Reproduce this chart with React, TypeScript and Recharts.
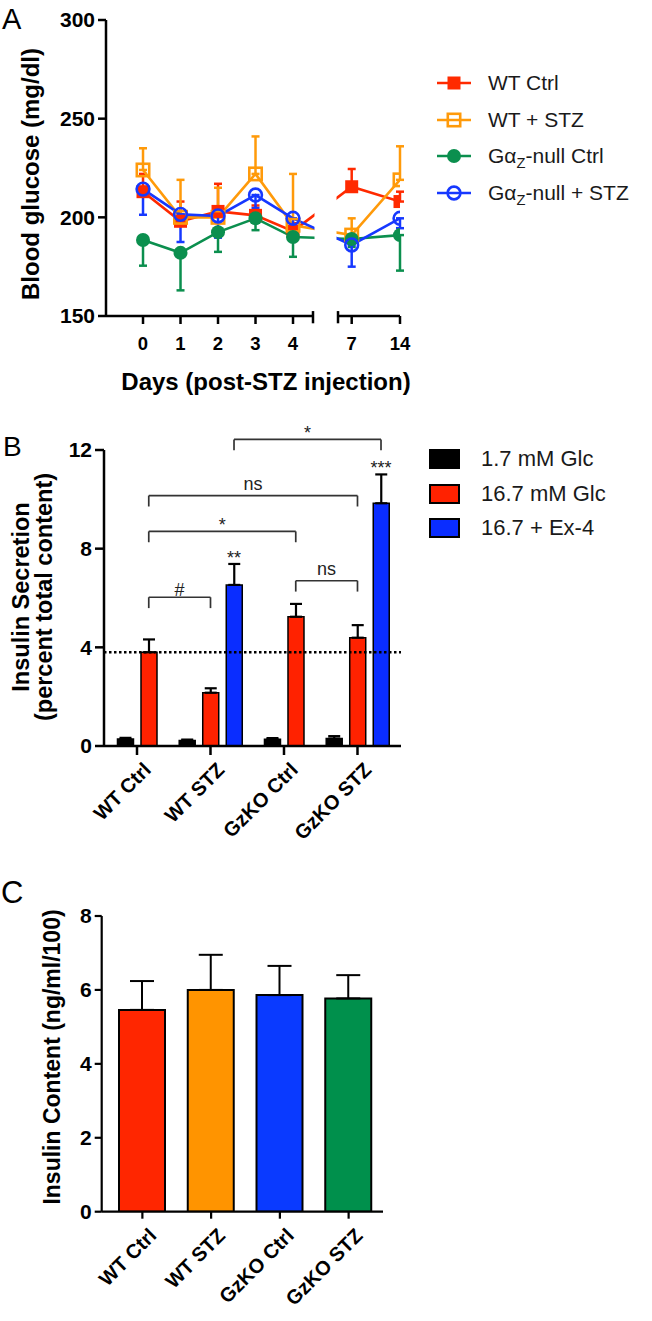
import React from 'react';
import {
  LineChart,
  Line,
  XAxis,
  YAxis,
  ErrorBar,
  ReferenceLine,
  ReferenceArea,
  ReferenceDot,
  BarChart,
  Bar,
  Cell,
  Legend,
} from 'recharts';

const FONT = '"Liberation Sans", Arial, Helvetica, sans-serif';

// ---------- Panel A: blood glucose ----------
const days = ['0', '1', '2', '3', '4', '7', '14'];
const wtCtrl = [213, 198, 203, 201, 193, 215.5, 208];
const wtCtrlErr = [9, 10, 14, 5, 4, 9, 5];
const wtStz = [224, 200, 200, 222, 196, 191, 219];
const wtStzErr = [11, 19, 15, 19, 26, 8.5, 17];
const nullCtrl = [188.5, 182, 192.5, 199.5, 190, 189, 191];
const nullCtrlErr = [13, 19, 10, 6, 10, 4, 18];
const nullStz = [214.3, 201.5, 200.7, 211.3, 199.5, 186, 199.5];
const nullStzErr = [13, 14, 11, 6.6, 7.5, 11, 5];
const glucoseTicks = [150, 200, 250, 300];

// ---------- Panel B: insulin secretion ----------
const groupsB = ['WT Ctrl', 'WT STZ', 'GzKO Ctrl', 'GzKO STZ'];
const glcLow = [0.28, 0.22, 0.27, 0.3];
const glcLowErr = [0.05, 0.04, 0.05, 0.1];
const glcHigh = [3.8, 2.16, 5.24, 4.39];
const glcHighErr = [0.52, 0.18, 0.52, 0.51];
const glcEx4 = [null, 6.53, null, 9.84];
const glcEx4Err = [null, 0.85, null, 1.17];
const secretionTicks = [0, 4, 8, 12];

// ---------- Panel C: insulin content ----------
const groupsC = ['WT Ctrl', 'WT STZ', 'GzKO Ctrl', 'GzKO STZ'];
const content = [5.46, 6.0, 5.86, 5.77];
const contentErr = [0.78, 0.95, 0.79, 0.63];
const contentTicks = [0, 2, 4, 6, 8];

// layout of the broken day axis (slot units)
const dayPos = [0, 1, 2, 3, 4, 5.565, 6.853];
const A_X = { min: -0.987, breakL: 4.533, breakR: 5.2, max: 6.853 };

const seriesA = [
  { key: 'wtCtrl', name: 'WT Ctrl', color: '#FF2A00', values: wtCtrl, err: wtCtrlErr, up: true, shape: 'square', filled: true },
  { key: 'wtStz', name: 'WT + STZ', color: '#FF9A0A', values: wtStz, err: wtStzErr, up: true, shape: 'square', filled: false },
  { key: 'nullCtrl', name: 'Ctrl', color: '#0B8F4E', values: nullCtrl, err: nullCtrlErr, up: false, shape: 'circle', filled: true },
  { key: 'nullStz', name: '+ STZ', color: '#1638FF', values: nullStz, err: nullStzErr, up: false, shape: 'circle', filled: false },
];

const dataA = days.map((d, i) => {
  const row: any = { pos: dayPos[i], day: d };
  seriesA.forEach((s) => {
    row[s.key] = s.values[i];
    row[s.key + 'Err'] = s.up ? [0, s.err[i]] : [s.err[i], 0];
  });
  return row;
});

const markerShape = (s: any, cx: number, cy: number, key?: string) => {
  if (s.shape === 'square') {
    const half = s.filled ? 6.5 : 6.2;
    return (
      <rect key={key} x={cx - half} y={cy - half} width={half * 2} height={half * 2}
        fill={s.filled ? s.color : 'none'} stroke={s.color} strokeWidth={s.filled ? 0 : 2.6} />
    );
  }
  return (
    <circle key={key} cx={cx} cy={cy} r={s.filled ? 7 : 6.4}
      fill={s.filled ? s.color : 'none'} stroke={s.color} strokeWidth={s.filled ? 0 : 2.6} />
  );
};

const dotFor = (s: any) => (p: any) => {
  const k = `${s.key}-${p.index}`;
  if (p.cx == null || p.cy == null) return <g key={k} />;
  return markerShape(s, p.cx, p.cy, k);
};

const seriesLabel = (s: any) => {
  if (s.key.startsWith('null')) {
    return (
      <span>
        G&alpha;<span style={{ fontSize: '0.7em', position: 'relative', top: '0.32em' }}>Z</span>-null {s.name}
      </span>
    );
  }
  return <span>{s.name}</span>;
};

const LegendA = () => (
  <div style={{ fontFamily: FONT }}>
    {seriesA.map((s) => (
      <div key={s.key} style={{ display: 'flex', alignItems: 'center', height: 36.8 }}>
        <svg width={34} height={20}>
          <line x1={0} y1={10} x2={34} y2={10} stroke={s.color} strokeWidth={2.6} />
          {markerShape(s, 17, 10)}
        </svg>
        <span style={{ marginLeft: 17, fontSize: 21, color: '#1a1a1a', whiteSpace: 'nowrap' }}>{seriesLabel(s)}</span>
      </div>
    ))}
  </div>
);

// ---------- Panel B layout ----------
const SLOT = 0.32;
const seriesB = [
  { key: 'low', name: '1.7 mM Glc', color: '#000000', values: glcLow, err: glcLowErr },
  { key: 'high', name: '16.7 mM Glc', color: '#FF2200', values: glcHigh, err: glcHighErr },
  { key: 'ex4', name: '16.7 + Ex-4', color: '#0A2DFF', values: glcEx4, err: glcEx4Err },
];

const barsB = groupsB.flatMap((g, gi) => {
  const present = seriesB.filter((s) => s.values[gi] != null);
  return present.map((s, k) => ({
    x: gi + (k - (present.length - 1) / 2) * SLOT,
    v: s.values[gi] as number,
    err: [0, s.err[gi] as number],
    fill: s.color,
    series: s.key,
    group: gi,
  }));
});
const barB = (gi: number, key: string) => barsB.find((b) => b.group === gi && b.series === key)!;

const bracketsB = [
  { a: [0, 'high'], b: [1, 'high'], y: 6.03, label: '#', offset: 1 },
  { a: [2, 'high'], b: [3, 'high'], y: 6.7, label: 'ns', offset: 6 },
  { a: [0, 'high'], b: [2, 'high'], y: 8.7, label: '*', offset: 0 },
  { a: [0, 'high'], b: [3, 'high'], y: 10.15, label: 'ns', offset: 6 },
  { a: [1, 'ex4'], b: [3, 'ex4'], y: 12.43, label: '*', offset: 0 },
];
const starsB = [
  { at: [1, 'ex4'], label: '**' },
  { at: [3, 'ex4'], label: '***' },
];
const LEG = 0.44;

const LegendB = () => (
  <div style={{ fontFamily: FONT }}>
    {seriesB.map((s) => (
      <div key={s.key} style={{ display: 'flex', alignItems: 'center', height: 34.5 }}>
        <div style={{ width: 31, height: 20, background: s.color, border: '2px solid #000', boxSizing: 'border-box' }} />
        <span style={{ marginLeft: 21, fontSize: 22, color: '#1a1a1a', whiteSpace: 'nowrap' }}>{s.name}</span>
      </div>
    ))}
  </div>
);

const colorsC = ['#FF2600', '#FF9400', '#0A3AFF', '#00904C'];
const dataC = groupsC.map((g, i) => ({ name: g, v: content[i], err: [0, contentErr[i]], fill: colorsC[i] }));

const SlantTick = ({ x, y, text }: any) => (
  <text transform={`translate(${x + 5},${y}) rotate(-45)`} textAnchor="end" dy="0.72em"
    fontSize={20} fontWeight="bold" fontFamily={FONT} fill="#000">
    {text}
  </text>
);

const tickStyle = (size: number) => ({ fill: '#000', fontSize: size, fontWeight: 'bold', fontFamily: FONT });
const black = (w: number) => ({ stroke: '#000', strokeWidth: w });

export default function App() {
  return (
    <div style={{ position: 'absolute', left: 0, top: 0, width: 652, height: 1321, background: '#fff', fontFamily: FONT }}>
      {/* Panel A */}
      <div style={{ position: 'absolute', left: 0, top: 0 }}>
        <LineChart width={652} height={400} data={dataA} margin={{ top: 20, right: 252, left: 46, bottom: 24 }}>
          <XAxis type="number" dataKey="pos" domain={[A_X.min, A_X.max]} allowDataOverflow ticks={dayPos} interval={0}
            tickFormatter={(v: number) => days[dayPos.indexOf(v)]} axisLine={false} tickLine={black(2.5)}
            tickSize={8} tickMargin={13} height={60} tick={tickStyle(18.5)} />
          <YAxis domain={[150, 300]} ticks={glucoseTicks} allowDataOverflow width={60} axisLine={black(2.5)}
            tickLine={black(2.5)} tickSize={8} tickMargin={3} tick={tickStyle(21)} />
          {seriesA.map((s) => (
            <Line key={s.key} dataKey={s.key} stroke={s.color} strokeWidth={2.6} dot={dotFor(s)} activeDot={false}
              isAnimationActive={false} type="linear">
              <ErrorBar dataKey={s.key + 'Err'} width={4} stroke={s.color} strokeWidth={2.5} direction="y" isAnimationActive={false} />
            </Line>
          ))}
          <ReferenceArea x1={A_X.breakL + 0.04} x2={A_X.breakR - 0.04} y1={150} y2={300} fill="#fff" fillOpacity={1}
            stroke="none" ifOverflow="visible" zIndex={450} />
          <ReferenceLine segment={[{ x: A_X.min, y: 150 }, { x: A_X.breakL, y: 150 }]} {...black(2.5)} ifOverflow="visible" zIndex={600} />
          <ReferenceLine segment={[{ x: A_X.breakR, y: 150 }, { x: A_X.max, y: 150 }]} {...black(2.5)} ifOverflow="visible" zIndex={600} />
          <ReferenceLine segment={[{ x: A_X.breakL, y: 146.3 }, { x: A_X.breakL, y: 152.5 }]} {...black(2.5)} ifOverflow="visible" zIndex={600} />
          <ReferenceLine segment={[{ x: A_X.breakR, y: 146.3 }, { x: A_X.breakR, y: 152.5 }]} {...black(2.5)} ifOverflow="visible" zIndex={600} />
          <Legend layout="vertical" align="center" verticalAlign="middle" content={<LegendA />}
            wrapperStyle={{ left: 437, top: 64.5, width: 215, height: 148 }} />
        </LineChart>
      </div>

      {/* Panel B */}
      <div style={{ position: 'absolute', left: 0, top: 400 }}>
        <BarChart width={652} height={470} data={barsB} margin={{ top: 50, right: 251, left: 44, bottom: 24 }}>
          <XAxis type="number" dataKey="x" domain={[-0.449, 3.592]} allowDataOverflow ticks={[0, 1, 2, 3]} interval={0}
            axisLine={black(2.5)} tickLine={black(2.5)} tickSize={9} tickMargin={6} height={100}
            tick={(p: any) => <SlantTick x={p.x} y={p.y} text={groupsB[Math.round(p.payload.value)]} />} />
          <YAxis domain={[0, 12]} ticks={secretionTicks} allowDataOverflow width={60} axisLine={black(2.5)}
            tickLine={black(2.5)} tickSize={9} tickMargin={3} tick={tickStyle(21)} />
          <Bar dataKey="v" barSize={16} stroke="#000" strokeWidth={1.5} isAnimationActive={false}>
            {barsB.map((b, i) => (
              <Cell key={i} fill={b.fill} />
            ))}
            <ErrorBar dataKey="err" width={6} stroke="#000" strokeWidth={2.2} direction="y" isAnimationActive={false} />
          </Bar>
          <ReferenceLine y={glcHigh[0]} stroke="#000" strokeWidth={2.5} strokeDasharray="2.5 2.5" ifOverflow="visible" />
          {bracketsB.map((br, i) => {
            const xa = barB(br.a[0] as number, br.a[1] as string).x;
            const xb = barB(br.b[0] as number, br.b[1] as string).x;
            const st = { stroke: '#333', strokeWidth: 1.7 };
            return (
              <React.Fragment key={i}>
                <ReferenceLine segment={[{ x: xa, y: br.y }, { x: xb, y: br.y }]} {...st} ifOverflow="visible" />
                <ReferenceLine segment={[{ x: xa, y: br.y }, { x: xa, y: br.y - LEG }]} {...st} ifOverflow="visible" />
                <ReferenceLine segment={[{ x: xb, y: br.y }, { x: xb, y: br.y - LEG }]} {...st} ifOverflow="visible" />
                <ReferenceDot x={(xa + xb) / 2} y={br.y} r={0} fill="none" stroke="none" ifOverflow="visible"
                  label={{ value: br.label, position: 'top', offset: br.offset, fontSize: 18, fill: '#222', fontFamily: FONT }} />
              </React.Fragment>
            );
          })}
          {starsB.map((st, i) => {
            const b = barB(st.at[0] as number, st.at[1] as string);
            return (
              <ReferenceDot key={i} x={b.x} y={b.v + b.err[1]} r={0} fill="none" stroke="none" ifOverflow="visible"
                label={{ value: st.label, position: 'top', offset: 0, fontSize: 18, fill: '#222', fontFamily: FONT }} />
            );
          })}
          <Legend layout="vertical" align="center" verticalAlign="middle" content={<LegendB />}
            wrapperStyle={{ left: 429, top: 41.75, width: 223, height: 104 }} />
        </BarChart>
      </div>

      {/* Panel C */}
      <div style={{ position: 'absolute', left: 0, top: 880 }}>
        <BarChart width={652} height={441} data={dataC} margin={{ top: 36, right: 269, left: 41.7, bottom: 9.3 }}>
          <XAxis dataKey="name" padding={{ left: 6.3, right: 0 }} axisLine={black(2.2)} tickLine={black(2.2)}
            tickSize={7} tickMargin={8} height={100} interval={0}
            tick={(p: any) => <SlantTick x={p.x} y={p.y} text={p.payload.value} />} />
          <YAxis domain={[0, 8]} ticks={contentTicks} allowDataOverflow width={60} axisLine={black(2.2)}
            tickLine={black(2.2)} tickSize={7} tickMargin={3} tick={tickStyle(21)} />
          <Bar dataKey="v" barSize={46} stroke="#000" strokeWidth={2} isAnimationActive={false}>
            {dataC.map((d, i) => (
              <Cell key={i} fill={d.fill} />
            ))}
            <ErrorBar dataKey="err" width={12} stroke="#000" strokeWidth={2} direction="y" isAnimationActive={false} />
          </Bar>
        </BarChart>
      </div>

      {/* panel letters and axis titles */}
      <svg width={652} height={1321} style={{ position: 'absolute', left: 0, top: 0, pointerEvents: 'none' }}
        fontFamily={FONT}>
        <text x={2} y={29} fontSize={29} fill="#000">A</text>
        <text transform="translate(38.5,174) rotate(-90)" textAnchor="middle" fontSize={24} fontWeight="bold" fill="#000">
          Blood glucose (mg/dl)
        </text>
        <text x={266} y={390} textAnchor="middle" fontSize={24} fontWeight="bold" fill="#000">
          Days (post-STZ injection)
        </text>

        <text x={3} y={456} fontSize={28} fill="#000">B</text>
        <text transform="translate(29,597) rotate(-90)" textAnchor="middle" fontSize={23.5} fontWeight="bold" fill="#000">
          Insulin Secretion
        </text>
        <text transform="translate(52,597) rotate(-90)" textAnchor="middle" fontSize={23.5} fontWeight="bold" fill="#000">
          (percent total content)
        </text>

        <text x={1} y={903} fontSize={31} fill="#000">C</text>
        <text transform="translate(60,1057) rotate(-90)" textAnchor="middle" fontSize={23} fontWeight="bold" fill="#000">
          Insulin Content (ng/ml/100)
        </text>
      </svg>
    </div>
  );
}
